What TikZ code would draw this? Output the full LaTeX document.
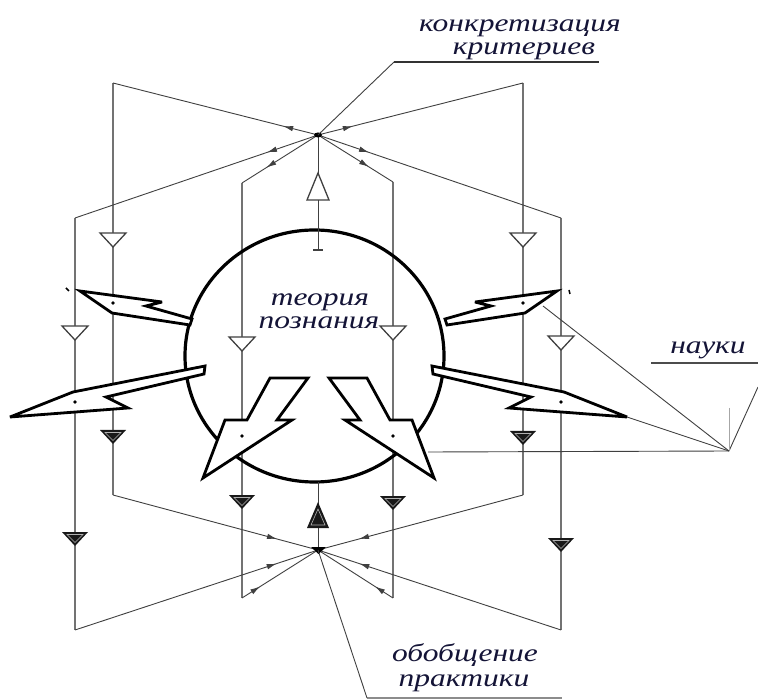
\documentclass[tikz,border=0pt]{standalone}
\usepackage{fontspec}
\newfontfamily\lblfont[FakeStretch=1.26]{Liberation Serif}
\usetikzlibrary{calc,arrows.meta,decorations.markings}
\definecolor{vline}{gray}{0.45}
\definecolor{dline}{gray}{0.25}
\definecolor{txt}{RGB}{20,20,55}
\tikzset{
  vert/.style={draw=vline, line width=1.9pt},
  diag/.style={draw=dline, line width=0.9pt},
  bolt/.style={draw=black, fill=white, line width=2.8pt, line join=miter, miter limit=5},
  ring/.style={draw=black, line width=3.2pt},
  lbl/.style={font=\lblfont\itshape\fontsize{25}{25}\selectfont, text=txt, inner sep=0pt, anchor=base},
  uline/.style={draw=black!80, line width=2.4pt},
  hubout/.style={postaction={decorate}, decoration={markings, mark=at position #1 with {\arrow{Latex[length=10pt,width=5.5pt]}}}},
  pics/downhollow/.style={code={\draw[dline, line width=1.3pt, fill=white] (-13,-7) -- (13,-7) -- (0,7) -- cycle;}},
  pics/downfill/.style={code={\fill[black!90] (-13,-7) -- (13,-7) -- (0,7) -- cycle;
      \draw[white!70!black, line width=0.6pt] (-8,-4.5) -- (8,-4.5) -- (0,3.5) -- cycle;}},
  dotmark/.style={fill=black},
}
\begin{document}
\begin{tikzpicture}[x=1pt, y=-1pt]
\fill[white] (0,0) rectangle (758,700);
\useasboundingbox (0,0) rectangle (758,700);

% hubs and line ends
\coordinate (T) at (318,135);
\coordinate (B) at (318,550);
\coordinate (a1t) at (113,83);  \coordinate (a1b) at (113,495);
\coordinate (a2t) at (75,218);  \coordinate (a2b) at (75,630);
\coordinate (a3t) at (242,183); \coordinate (a3b) at (242,598);
\coordinate (b3t) at (393,182); \coordinate (b3b) at (393,598);
\coordinate (b1t) at (523,83);  \coordinate (b1b) at (523,495);
\coordinate (b2t) at (561,218); \coordinate (b2b) at (561,630);
\coordinate (ctop) at (318,250);
\coordinate (cbot) at (318,482);

% vertical science lines
\foreach \p in {a1,a2,a3,b3,b1,b2}{\draw[vert] (\p t) -- (\p b);}

% top hub lines
\draw[diag, hubout=0.17] (T) -- (a1t);
\draw[diag, hubout=0.21] (T) -- (a2t);
\draw[diag, hubout=0.68] (T) -- (a3t);
\draw[diag, hubout=0.17] (T) -- (b1t);
\draw[diag, hubout=0.21] (T) -- (b2t);
\draw[diag, hubout=0.68] (T) -- (b3t);
% bottom hub lines
\draw[diag, hubout=0.80] (a1b) -- (B);
\draw[diag, hubout=0.83] (a2b) -- (B);
\draw[diag, hubout=0.24] (a3b) -- (B);
\draw[diag, hubout=0.80] (b1b) -- (B);
\draw[diag, hubout=0.83] (b2b) -- (B);
\draw[diag, hubout=0.24] (b3b) -- (B);

% theory circle and its links to the hubs
\draw[ring] (314.5,356) ellipse [x radius=129.5pt, y radius=126pt];
\draw[diag] (ctop) -- (T);
\draw[diag, line width=1.4pt] (313,250) -- (323,250);
\draw[diag] (cbot) -- (B);
\draw[dline, line width=1.3pt, fill=white] (307,200) -- (329,200) -- (318,173) -- cycle;
\fill[black!90] (307,528) -- (329,528) -- (318,502) -- cycle;
\draw[white!70!black, line width=0.6pt] (311,525) -- (325,525) -- (318,509) -- cycle;

% lightning arrows
\draw[bolt] (80,291) -- (162,302) -- (146,306) -- (192,319) -- (190,325) -- (112,313) -- cycle;
\draw[bolt] (10,417) -- (73,392) -- (205,366) -- (204,374) -- (106,397) -- (128,408) -- cycle;
\draw[bolt] (557,291) -- (475,302) -- (491,306) -- (445,319) -- (447,325) -- (525,313) -- cycle;
\draw[bolt] (627,417) -- (564,392) -- (432,366) -- (433,374) -- (531,397) -- (509,408) -- cycle;
\draw[bolt] (270,378) -- (308,378) -- (277,420) -- (292,420) -- (203,478) -- (225,420) -- (247,420) -- cycle;
\draw[bolt] (367,378) -- (329,378) -- (360,420) -- (345,420) -- (434,478) -- (412,420) -- (390,420) -- cycle;
\draw[black, line width=1.5pt] (66,288) -- (69,291);
\draw[black, line width=1.5pt] (569,290) -- (570,294);

% dots where lines meet the arrows
\foreach \q in {(113,303),(75,402),(242,436),(393,436),(523,303),(561,402)}{\fill[dotmark] \q circle (1.8pt);}

% triangles on the science lines
\pic at (113,240) {downhollow};
\pic at (75,333) {downhollow};
\pic at (242,344) {downhollow};
\pic at (393,333) {downhollow};
\pic at (523,240) {downhollow};
\pic at (561,343) {downhollow};
\pic at (113,437) {downfill};
\pic at (75,539) {downfill};
\pic at (242,502) {downfill};
\pic at (393,503) {downfill};
\pic at (523,438) {downfill};
\pic at (561,545) {downfill};

% hub markers
\fill[black] (T) ellipse [x radius=4pt, y radius=2.5pt];
\fill[black] (311,547) -- (326,547) -- (318.5,554) -- cycle;

% labels
\node[lbl] (k1) at (520,32) {конкретизация};
\node[lbl] (k2) at (524,55) {критериев};
\coordinate (kl) at (394,62);
\coordinate (kr) at (599,62);
\draw[uline] (kl) -- (kr);
\draw[diag] (T) -- (kl);

\node[lbl] (t1) at (320,306) {теория};
\node[lbl] (t2) at (319,329) {познания};

\node[lbl] (n1) at (708,354) {науки};
\coordinate (nl) at (651,363);
\coordinate (nr) at (758,363);
\draw[uline, draw=black!70, line width=2.6pt] (nl) -- (nr);
\coordinate (V) at (729,451);
\coordinate (ve) at (758,387);
\coordinate (vt) at (729,408);
\coordinate (ru) at (543,306);
\coordinate (rl) at (627,417);
\coordinate (ri) at (428,452);
\draw[diag] (V) -- (ve);
\draw[draw=black!35, line width=0.8pt] (vt) -- (V);
\draw[diag] (ru) -- (V);
\draw[diag] (rl) -- (V);
\draw[diag] (ri) -- (V);

\node[lbl] (o1) at (465,661) {обобщение};
\node[lbl] (o2) at (464,686) {практики};
\coordinate (ol) at (367,698);
\coordinate (or) at (562,698);
\draw[draw=black!45, line width=1.2pt] (ol) -- (or);
\draw[diag] (B) -- (ol);
\end{tikzpicture}
\end{document}
